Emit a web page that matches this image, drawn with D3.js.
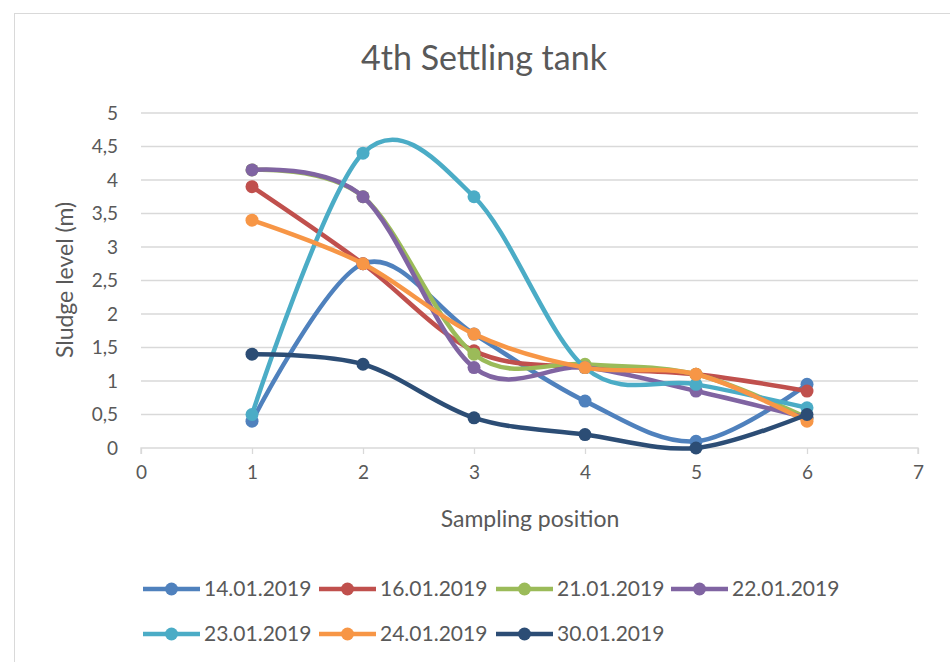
<!DOCTYPE html>
<html>
<head>
<meta charset="utf-8">
<script src="https://cdn.jsdelivr.net/npm/d3@7"></script>
<style>
  body { margin: 0; background: #fff; }
  text { font-family: Lato, "Open Sans", sans-serif; fill: #595959; }
</style>
</head>
<body>
<div id="chart"></div>
<script>
        // Data
        var positions = [1, 2, 3, 4, 5, 6];
        var seriesNames = ["14.01.2019", "16.01.2019", "21.01.2019", "22.01.2019",
                           "23.01.2019", "24.01.2019", "30.01.2019"];
        var s14 = [0.4, 2.75, 1.7, 0.7, 0.1, 0.95];
        var s16 = [3.9, 2.75, 1.45, 1.2, 1.1, 0.85];
        var s21 = [4.15, 3.75, 1.4, 1.25, 1.1, 0.45];
        var s22 = [4.15, 3.75, 1.2, 1.2, 0.85, 0.45];
        var s23 = [0.5, 4.4, 3.75, 1.2, 0.95, 0.6];
        var s24 = [3.4, 2.75, 1.7, 1.2, 1.1, 0.4];
        var s30 = [1.4, 1.25, 0.45, 0.2, 0, 0.5];
        var allSeries = [s14, s16, s21, s22, s23, s24, s30];
        var xTicks = [0, 1, 2, 3, 4, 5, 6, 7];
        var yTicks = [0, 0.5, 1, 1.5, 2, 2.5, 3, 3.5, 4, 4.5, 5];

        var colors = ["#4F81BD", "#C0504D", "#9BBB59", "#8064A2", "#4BACC6", "#F79646", "#2C4D75"];

        var width = 950, height = 662;
        var plot = { left: 141, right: 918, top: 113, bottom: 448 };

        var svg = d3.select("#chart").append("svg")
            .attr("width", width)
            .attr("height", height);

        // chart frame (light border, runs off the right/bottom edge)
        svg.append("rect")
            .attr("x", 14.5).attr("y", 13.5)
            .attr("width", 960).attr("height", 700)
            .attr("fill", "#fff")
            .attr("stroke", "#D9D9D9");

        var x = d3.scaleLinear().domain([0, 7]).range([plot.left, plot.right]);
        var y = d3.scaleLinear().domain([0, 5]).range([plot.bottom, plot.top]);

        // Title
        svg.append("text")
            .attr("x", 484).attr("y", 70)
            .attr("text-anchor", "middle")
            .style("font-size", "34px")
            .text("4th Settling tank");

        // horizontal gridlines
        svg.append("g").selectAll("line")
            .data(yTicks.filter(d => d > 0))
            .enter().append("line")
            .attr("x1", plot.left).attr("x2", plot.right)
            .attr("y1", d => y(d)).attr("y2", d => y(d))
            .attr("stroke", "#D9D9D9").attr("stroke-width", 1.3);

        // y tick labels
        svg.append("g").selectAll("text")
            .data(yTicks)
            .enter().append("text")
            .attr("x", 118)
            .attr("y", d => y(d))
            .attr("dy", "0.35em")
            .attr("text-anchor", "end")
            .style("font-size", "19px")
            .text(d => String(d).replace(".", ","));

        // x axis line + ticks
        var xAxis = d3.axisBottom(x).tickValues(xTicks).tickFormat(d3.format("d"))
            .tickSize(6).tickPadding(12);
        var gx = svg.append("g")
            .attr("transform", `translate(0,${plot.bottom})`)
            .call(xAxis);
        gx.select(".domain").attr("stroke", "#D9D9D9").attr("stroke-width", 1.3)
            .attr("d", `M${plot.left},6V0H${plot.right}V6`);
        gx.selectAll(".tick line").attr("stroke", "#D9D9D9").attr("stroke-width", 1.3);
        gx.selectAll(".tick text")
            .style("font-size", "19px")
            .style("font-family", "Lato, sans-serif")
            .attr("fill", "#595959");

        // axis titles
        svg.append("text")
            .attr("x", 530).attr("y", 527)
            .attr("text-anchor", "middle")
            .style("font-size", "23px")
            .text("Sampling position");

        svg.append("text")
            .attr("transform", "translate(73,280) rotate(-90)")
            .attr("text-anchor", "middle")
            .style("font-size", "23px")
            .text("Sludge level (m)");

        // smoothed lines like Excel
        var line = d3.line()
            .x((d, i) => x(positions[i]))
            .y(d => y(d))
            .curve(d3.curveCardinal.tension(0));

        var series = svg.append("g").selectAll("g")
            .data(allSeries)
            .enter().append("g");

        series.append("path")
            .attr("d", d => line(d))
            .attr("fill", "none")
            .attr("stroke", (d, i) => colors[i])
            .attr("stroke-width", 4.5)
            .attr("stroke-linecap", "round");

        series.each(function(d, i) {
            d3.select(this).selectAll("circle")
                .data(d)
                .enter().append("circle")
                .attr("cx", (v, j) => x(positions[j]))
                .attr("cy", v => y(v))
                .attr("r", 6.5)
                .attr("fill", colors[i]);
        });

        // legend, two rows
        var legendPos = [
            [143, 589], [319, 589], [496, 589], [671, 589],
            [143, 634], [319, 634], [496, 634]
        ];
        var legend = svg.append("g").selectAll("g")
            .data(seriesNames)
            .enter().append("g")
            .attr("transform", (d, i) => `translate(${legendPos[i][0]},${legendPos[i][1]})`);

        legend.append("line")
            .attr("x1", 0).attr("x2", 57)
            .attr("stroke", (d, i) => colors[i])
            .attr("stroke-width", 4.5);
        legend.append("circle")
            .attr("cx", 28.5).attr("r", 6.5)
            .attr("fill", (d, i) => colors[i]);
        legend.append("text")
            .attr("x", 61).attr("dy", "0.35em")
            .style("font-size", "21px")
            .text(d => d);
</script>
</body>
</html>
